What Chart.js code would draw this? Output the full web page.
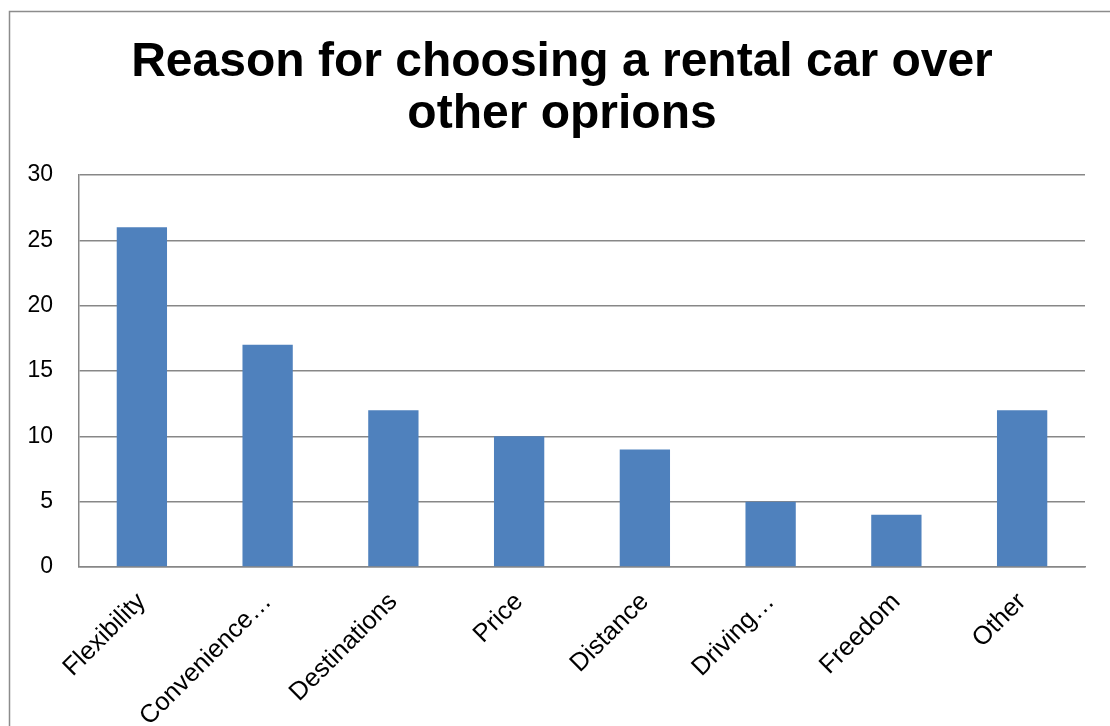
<!DOCTYPE html>
<html>
<head>
<meta charset="utf-8">
<script src="https://cdn.jsdelivr.net/npm/chart.js@4/dist/chart.umd.min.js"></script>
<style>
  body { margin: 0; background: #fff; }
  #wrap { width: 1110px; height: 726px; }
</style>
</head>
<body>
<div id="wrap"><canvas id="myChart" width="1110" height="726"></canvas></div>
<script>
const titleLines = ['Reason for choosing a rental car over', 'other oprions'];
const reasons = ['Flexibility', 'Convenience…', 'Destinations', 'Price', 'Distance', 'Driving…', 'Freedom', 'Other'];
const counts = [26, 17, 12, 10, 9, 5, 4, 12];
const yTicks = [0, 5, 10, 15, 20, 25, 30];

const gridGray = '#878787';
const fontFamily = 'Arial, "Liberation Sans", sans-serif';

// white page plus the grey frame that runs off the right and bottom edges
const frame = {
    id: 'frame',
    beforeDraw(chart) {
        const ctx = chart.ctx;
        ctx.save();
        ctx.fillStyle = '#fff';
        ctx.fillRect(0, 0, chart.width, chart.height);
        ctx.strokeStyle = '#8c8c8c';
        ctx.lineWidth = 1.5;
        ctx.strokeRect(9.5, 11.5, chart.width + 20, chart.height + 20);
        ctx.restore();
    }
};

// two-line heading, centred over the frame rather than the canvas
const heading = {
    id: 'heading',
    afterDraw(chart) {
        const ctx = chart.ctx;
        ctx.save();
        ctx.fillStyle = '#000';
        ctx.font = 'bold 48px ' + fontFamily;
        ctx.textAlign = 'center';
        ctx.textBaseline = 'alphabetic';
        ctx.fillText(titleLines[0], 562, 76);
        ctx.fillText(titleLines[1], 562, 128);
        ctx.restore();
    }
};

new Chart('myChart', {
    type: 'bar',
    data: {
        labels: reasons,
        datasets: [{
            data: counts,
            backgroundColor: '#4f81bd',
            barPercentage: 0.4,
            categoryPercentage: 1
        }]
    },
    options: {
        responsive: false,
        animation: false,
        layout: { padding: { left: 0, right: 25, top: 175, bottom: 0 } },
        plugins: {
            legend: { display: false },
            tooltip: { enabled: false },
            title: { display: false }
        },
        scales: {
            x: {
                grid: { display: false },
                border: { display: true, color: gridGray, width: 1.5 },
                ticks: {
                    color: '#000',
                    font: { family: fontFamily, size: 25.5 },
                    minRotation: 45,
                    maxRotation: 45,
                    autoSkip: false,
                    padding: 12
                },
                afterFit(axis) { axis.height = 159; }
            },
            y: {
                min: 0,
                max: 30,
                afterBuildTicks(axis) { axis.ticks = yTicks.map(v => ({ value: v })); },
                grid: { color: gridGray, lineWidth: 1.5, drawTicks: false },
                border: { display: true, color: gridGray, width: 1.5 },
                ticks: {
                    color: '#000',
                    font: { family: fontFamily, size: 23 },
                    padding: 26
                },
                afterFit(axis) { axis.width = 79; }
            }
        }
    },
    plugins: [frame, heading]
});
</script>
</body>
</html>
